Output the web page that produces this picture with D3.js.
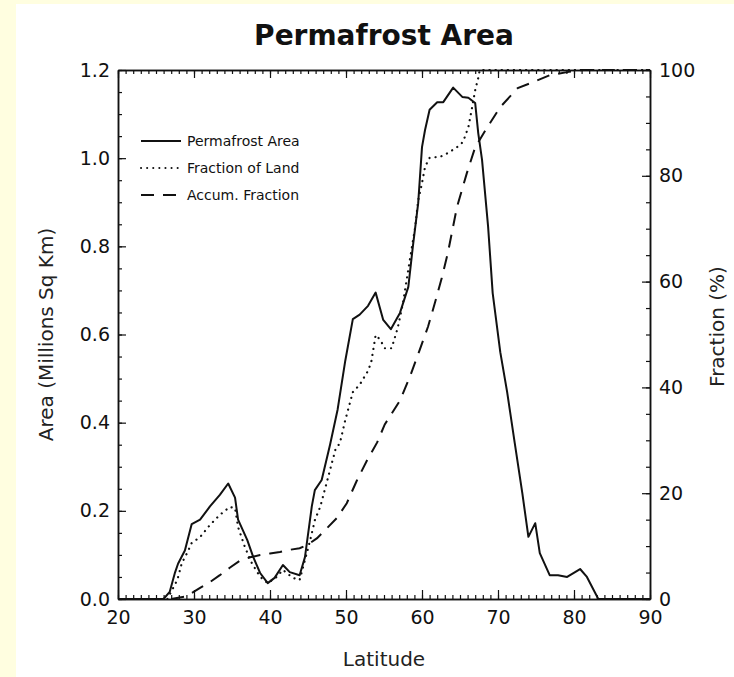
<!DOCTYPE html>
<html>
<head>
<meta charset="utf-8">
<script src="https://cdn.jsdelivr.net/npm/d3@7"></script>
<style>
  body { margin: 0; background: #fffee0; }
  svg { display: block; }
</style>
</head>
<body>
<div id="container"></div>
<script>
// Permafrost Area (solid), left axis, million sq km
const areaLat = [20, 26, 26.8, 27.5, 27.9, 28.8, 29.7, 30.8, 32.1, 33.4, 34.5, 35.4, 35.8, 37, 37.8, 38.7, 39.7, 40.6, 41.7, 42.6, 43.9, 44.6, 45.5, 45.9, 46.8, 47.9, 48.9, 49.9, 50.9, 51.8, 52.9, 53.9, 54.9, 55.9, 57.1, 58.2, 58.8, 59.5, 60, 60.4, 61, 62, 62.8, 64.1, 65.3, 66.1, 67, 67.4, 67.9, 68.7, 69.3, 70.3, 71.2, 72.2, 73.2, 74, 74.9, 75.5, 76.8, 77.9, 79.1, 80.8, 81.7, 83.2, 90];
const areaValues = [0, 0, 0.016, 0.06, 0.08, 0.11, 0.17, 0.18, 0.21, 0.236, 0.262, 0.23, 0.18, 0.134, 0.095, 0.059, 0.036, 0.048, 0.077, 0.061, 0.054, 0.095, 0.21, 0.247, 0.27, 0.35, 0.43, 0.54, 0.635, 0.645, 0.665, 0.695, 0.633, 0.612, 0.649, 0.708, 0.8, 0.898, 1.025, 1.064, 1.11, 1.127, 1.127, 1.16, 1.139, 1.137, 1.125, 1.057, 0.996, 0.844, 0.694, 0.56, 0.47, 0.354, 0.24, 0.141, 0.172, 0.104, 0.054, 0.054, 0.05, 0.068, 0.05, 0, 0];

// Fraction of Land (dotted), right axis, %
const landLat = [26.5, 27.8, 28.4, 29.1, 29.7, 30.8, 32.1, 33.4, 34.7, 35.4, 35.8, 36.7, 37.6, 38.7, 39.7, 40.9, 41.7, 43, 43.9, 44.6, 45.3, 45.9, 46.6, 47.2, 47.9, 48.6, 49.2, 49.9, 50.5, 50.9, 51.8, 52.8, 53.3, 53.9, 54.5, 55.1, 56, 56.8, 57.5, 58.4, 59.1, 59.5, 60, 60.4, 61, 62.4, 63.4, 64.6, 65.4, 66.1, 66.6, 67, 67.4, 67.6, 90];
const landPct = [0, 3.6, 6.8, 8.7, 10.6, 11.7, 14, 15.9, 17.4, 17.2, 13.6, 9.8, 6.8, 4.2, 3, 4.2, 5.5, 4, 3.6, 7.4, 11.2, 14.9, 17.4, 20.6, 24.4, 28.2, 29.5, 33.8, 37, 39.1, 40.5, 42.9, 44.6, 49.9, 49, 47.4, 47.4, 51.2, 56, 64.1, 70.3, 75.4, 78.6, 81.7, 83.4, 83.6, 84.3, 85.4, 86.4, 89.2, 93, 96.2, 98.5, 100, 100];

// Accum. Fraction (dashed), right axis, %
const accumLat = [27, 29, 30.8, 32.1, 33.4, 34.7, 36, 37.4, 38.7, 40, 41.3, 42.6, 43.9, 44.9, 46.2, 47.5, 48.8, 50.1, 51.4, 52.8, 54.1, 55.1, 57.1, 58.4, 59.7, 60.8, 61.7, 62.6, 63.4, 64.6, 65.9, 67, 68.6, 70.3, 72.6, 74.6, 76.8, 79.1, 81, 90];
const accumPct = [0, 0.5, 2.1, 3.2, 4.5, 5.9, 7.2, 7.9, 8.3, 8.6, 8.9, 9.3, 9.6, 10.2, 11.5, 13.4, 15.3, 18.1, 22.3, 26.3, 29.6, 33, 37.5, 42, 47.1, 51.5, 56, 60.7, 65.4, 74.1, 80.5, 85.4, 89.2, 93, 96.6, 97.7, 99, 99.6, 100, 100];

const latTicks = [20, 30, 40, 50, 60, 70, 80, 90];
const areaTicks = [0, 0.2, 0.4, 0.6, 0.8, 1.0, 1.2];
const pctTicks = [0, 20, 40, 60, 80, 100];
const legendLabels = ['Permafrost Area', 'Fraction of Land', 'Accum. Fraction'];

const width = 734;
const height = 677;
const plotLeft = 118, plotRight = 650, plotTop = 70, plotBottom = 599;
const font = '"DejaVu Sans", Verdana, sans-serif';

const svg = d3.select('#container')
  .append('svg')
  .attr('width', width)
  .attr('height', height);

svg.append('rect')
  .attr('x', 16).attr('y', 4)
  .attr('width', width - 16).attr('height', height - 4)
  .attr('fill', '#fff');

const x = d3.scaleLinear().domain([20, 90]).range([plotLeft, plotRight]);
const yArea = d3.scaleLinear().domain([0, 1.2]).range([plotBottom, plotTop]);
const yPct = d3.scaleLinear().domain([0, 100]).range([plotBottom, plotTop]);

function styleAxis(g, size) {
  g.selectAll('path').attr('stroke', '#111').attr('stroke-width', 1.5);
  g.selectAll('line').attr('stroke', '#111').attr('stroke-width', 1.2);
  g.selectAll('text')
    .attr('fill', '#111')
    .style('font-family', font)
    .style('font-size', size + 'px');
}

// minor ticks first, majors on top
svg.append('g').attr('transform', `translate(0,${plotBottom})`)
  .call(d3.axisBottom(x).tickValues(d3.range(20, 91, 1)).tickSize(-4).tickFormat('').tickSizeOuter(0))
  .call(g => styleAxis(g, 18));
svg.append('g').attr('transform', `translate(0,${plotTop})`)
  .call(d3.axisTop(x).tickValues(d3.range(20, 91, 1)).tickSize(-4).tickFormat('').tickSizeOuter(0))
  .call(g => styleAxis(g, 18));
svg.append('g').attr('transform', `translate(${plotLeft},0)`)
  .call(d3.axisLeft(yArea).tickValues(d3.range(0, 1.21, 0.05)).tickSize(-4).tickFormat('').tickSizeOuter(0))
  .call(g => styleAxis(g, 18));
svg.append('g').attr('transform', `translate(${plotRight},0)`)
  .call(d3.axisRight(yPct).tickValues(d3.range(0, 101, 5)).tickSize(-4).tickFormat('').tickSizeOuter(0))
  .call(g => styleAxis(g, 18));

svg.append('g').attr('transform', `translate(0,${plotBottom})`)
  .call(d3.axisBottom(x).tickValues(latTicks).tickSize(-9).tickPadding(12).tickSizeOuter(0))
  .call(g => styleAxis(g, 19));
svg.append('g').attr('transform', `translate(0,${plotTop})`)
  .call(d3.axisTop(x).tickValues(latTicks).tickSize(-8).tickFormat('').tickSizeOuter(0))
  .call(g => styleAxis(g, 19));
svg.append('g').attr('transform', `translate(${plotLeft},0)`)
  .call(d3.axisLeft(yArea).tickValues(areaTicks).tickFormat(d3.format('.1f')).tickSize(-8).tickPadding(8).tickSizeOuter(0))
  .call(g => styleAxis(g, 19));
svg.append('g').attr('transform', `translate(${plotRight},0)`)
  .call(d3.axisRight(yPct).tickValues(pctTicks).tickSize(-8).tickPadding(9).tickSizeOuter(0))
  .call(g => styleAxis(g, 19));

// curves
svg.append('clipPath').attr('id', 'plot-clip')
  .append('rect')
  .attr('x', plotLeft).attr('y', plotTop - 1)
  .attr('width', plotRight - plotLeft).attr('height', plotBottom - plotTop + 1);

const plot = svg.append('g').attr('clip-path', 'url(#plot-clip)');

const areaLine = d3.line().x(d => x(d[0])).y(d => yArea(d[1]));
const pctLine = d3.line().x(d => x(d[0])).y(d => yPct(d[1]));

plot.append('path')
  .datum(d3.zip(accumLat, accumPct))
  .attr('d', pctLine)
  .attr('fill', 'none')
  .attr('stroke', '#111')
  .attr('stroke-width', 2)
  .attr('stroke-dasharray', '13,9');

plot.append('path')
  .datum(d3.zip(landLat, landPct))
  .attr('d', pctLine)
  .attr('fill', 'none')
  .attr('stroke', '#111')
  .attr('stroke-width', 2.2)
  .attr('stroke-linecap', 'round')
  .attr('stroke-dasharray', '0.1,6');

plot.append('path')
  .datum(d3.zip(areaLat, areaValues))
  .attr('d', areaLine)
  .attr('fill', 'none')
  .attr('stroke', '#111')
  .attr('stroke-width', 2)
  .attr('stroke-linejoin', 'round');

// legend
const dashes = [null, '0.1,6', '13,9'];
const legend = svg.append('g').attr('transform', 'translate(141,141)');
legendLabels.forEach((label, i) => {
  legend.append('line')
    .attr('x1', 0).attr('x2', 40)
    .attr('y1', i * 27).attr('y2', i * 27)
    .attr('stroke', '#111')
    .attr('stroke-width', 2)
    .attr('stroke-linecap', i === 1 ? 'round' : 'butt')
    .attr('stroke-dasharray', dashes[i]);
  legend.append('text')
    .attr('x', 46)
    .attr('y', i * 27)
    .attr('dy', '0.35em')
    .style('font-family', font)
    .style('font-size', '14px')
    .attr('fill', '#111')
    .text(label);
});

// titles
svg.append('text')
  .attr('x', (plotLeft + plotRight) / 2)
  .attr('y', 45)
  .attr('text-anchor', 'middle')
  .style('font-family', font)
  .style('font-weight', 'bold')
  .style('font-size', '28px')
  .attr('fill', '#111')
  .text('Permafrost Area');

svg.append('text')
  .attr('x', (plotLeft + plotRight) / 2)
  .attr('y', 666)
  .attr('text-anchor', 'middle')
  .style('font-family', font)
  .style('font-size', '20px')
  .attr('fill', '#222')
  .text('Latitude');

svg.append('text')
  .attr('transform', `translate(53,${(plotTop + plotBottom) / 2}) rotate(-90)`)
  .attr('text-anchor', 'middle')
  .style('font-family', font)
  .style('font-size', '20px')
  .attr('fill', '#222')
  .text('Area (Millions Sq Km)');

svg.append('text')
  .attr('transform', `translate(724,${(plotTop + plotBottom) / 2 - 8}) rotate(-90)`)
  .attr('text-anchor', 'middle')
  .style('font-family', font)
  .style('font-size', '20px')
  .attr('fill', '#222')
  .text('Fraction (%)');
</script>
</body>
</html>
